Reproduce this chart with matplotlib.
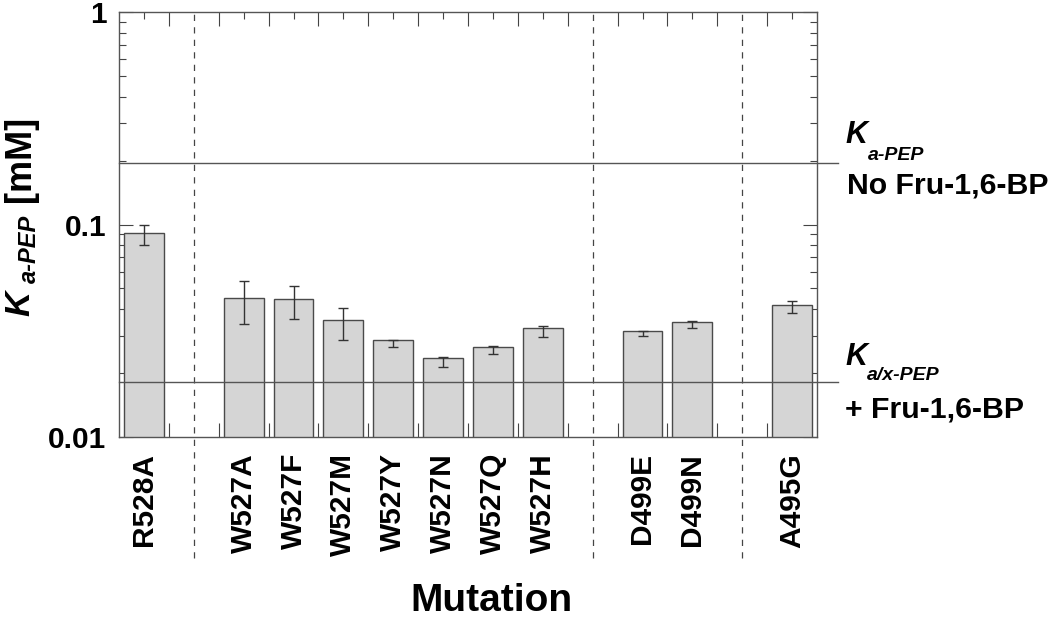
import numpy as np
import matplotlib
matplotlib.use("Agg")
import matplotlib.pyplot as plt
from matplotlib.ticker import LogLocator, NullFormatter

# data (Ka-PEP in mM, log axis)
mutations = ["R528A", "W527A", "W527F", "W527M", "W527Y", "W527N",
             "W527Q", "W527H", "D499E", "D499N", "A495G"]
slots = [0, 2, 3, 4, 5, 6, 7, 8, 10, 11, 13]
ka_pep = [0.090, 0.044, 0.0436, 0.0345, 0.0275, 0.0225,
          0.0256, 0.0315, 0.0306, 0.0339, 0.0409]
ka_err = [0.010, 0.010, 0.0078, 0.006, 0.0011, 0.0012,
          0.0011, 0.0018, 0.0008, 0.0012, 0.0027]
separators = [1, 9, 12]
ka_no_fbp = 0.195     # wild type, no Fru-1,6-BP
ka_with_fbp = 0.0182  # wild type, + Fru-1,6-BP

plt.rcParams["font.family"] = ["Liberation Sans", "DejaVu Sans"]
plt.rcParams["font.weight"] = "bold"

W, H = 1050, 620
def fx(x):
    return x / W
def fy(y):
    return 1 - y / H

fig = plt.figure(figsize=(10.5, 6.2), dpi=100)
ax = fig.add_axes([fx(119), fy(437), 698 / W, 425 / H])

ax.set_yscale("log")
ax.set_ylim(0.01, 1)
ax.set_xlim(-0.5, 13.5)

ax.bar(slots, ka_pep, width=0.8, bottom=1e-3, color="#d5d5d5",
       edgecolor="#4a4a4a", linewidth=1.0, zorder=2)
ax.errorbar(slots, ka_pep, yerr=ka_err, fmt="none", ecolor="#333333",
            elinewidth=1.0, capsize=3.6, capthick=1.0, zorder=3)

# reference lines for wild type, run a bit past the right spine
for yv in [ka_no_fbp, ka_with_fbp]:
    ax.axhline(yv, xmin=0, xmax=(838 - 119) / 698, color="#555555",
               linewidth=1.0, clip_on=False, zorder=4)

# group separators, dashed, reaching down into the labels
for xs in separators:
    ax.axvline(xs, ymin=(437 - 558) / 425, ymax=1, color="#444444",
               linewidth=0.9, dashes=(5, 5), clip_on=False, zorder=1)

ax.set_yticks([0.01, 0.1, 1])
ax.set_yticklabels(["0.01", "0.1", "1"])
ax.yaxis.set_minor_locator(LogLocator(base=10, subs=range(2, 10)))
ax.yaxis.set_minor_formatter(NullFormatter())
ax.tick_params(axis="y", which="both", direction="in", left=True, right=True,
               color="#444444", width=0.8)
ax.tick_params(axis="y", which="major", length=10, pad=9, labelsize=21.5)
ax.tick_params(axis="y", which="minor", length=5)

ax.set_xticks(slots)
ax.set_xticklabels(mutations, rotation=90)
ax.set_xticks(np.arange(0.5, 13, 1), minor=True)
ax.tick_params(axis="x", which="both", direction="in", top=True, bottom=True,
               color="#444444", width=0.8)
ax.tick_params(axis="x", which="major", length=5, pad=11.5, labelsize=21.5)
ax.tick_params(axis="x", which="minor", length=10)

for s in ax.spines.values():
    s.set_color("#555555")
    s.set_linewidth(1.0)

# y axis title, pieced together so the subscript sits right
fig.text(fx(20), fy(303), "K", rotation=90, ha="center", va="center",
         fontsize=25, fontstyle="italic", fontweight="bold")
fig.text(fx(29), fy(249), "a-PEP", rotation=90, ha="center", va="center",
         fontsize=17, fontstyle="italic", fontweight="bold")
fig.text(fx(20), fy(159), "[mM]", rotation=90, ha="center", va="center",
         fontsize=26, fontweight="bold")

fig.text(fx(491), fy(611), "Mutation", ha="center", va="baseline",
         fontsize=28, fontweight="bold")

# labels for the two reference lines
fig.text(fx(845), fy(143), "K", ha="left", va="baseline",
         fontsize=22, fontstyle="italic", fontweight="bold")
fig.text(fx(868), fy(160), "a-PEP", ha="left", va="baseline",
         fontsize=14, fontstyle="italic", fontweight="bold")
fig.text(fx(847), fy(193), "No Fru-1,6-BP", ha="left", va="baseline",
         fontsize=21.8, fontweight="bold")

fig.text(fx(845), fy(365), "K", ha="left", va="baseline",
         fontsize=22, fontstyle="italic", fontweight="bold")
fig.text(fx(867), fy(380), "a/x-PEP", ha="left", va="baseline",
         fontsize=14, fontstyle="italic", fontweight="bold")
fig.text(fx(845), fy(418), "+ Fru-1,6-BP", ha="left", va="baseline",
         fontsize=21.8, fontweight="bold")

fig.savefig("out.png", dpi=100)
